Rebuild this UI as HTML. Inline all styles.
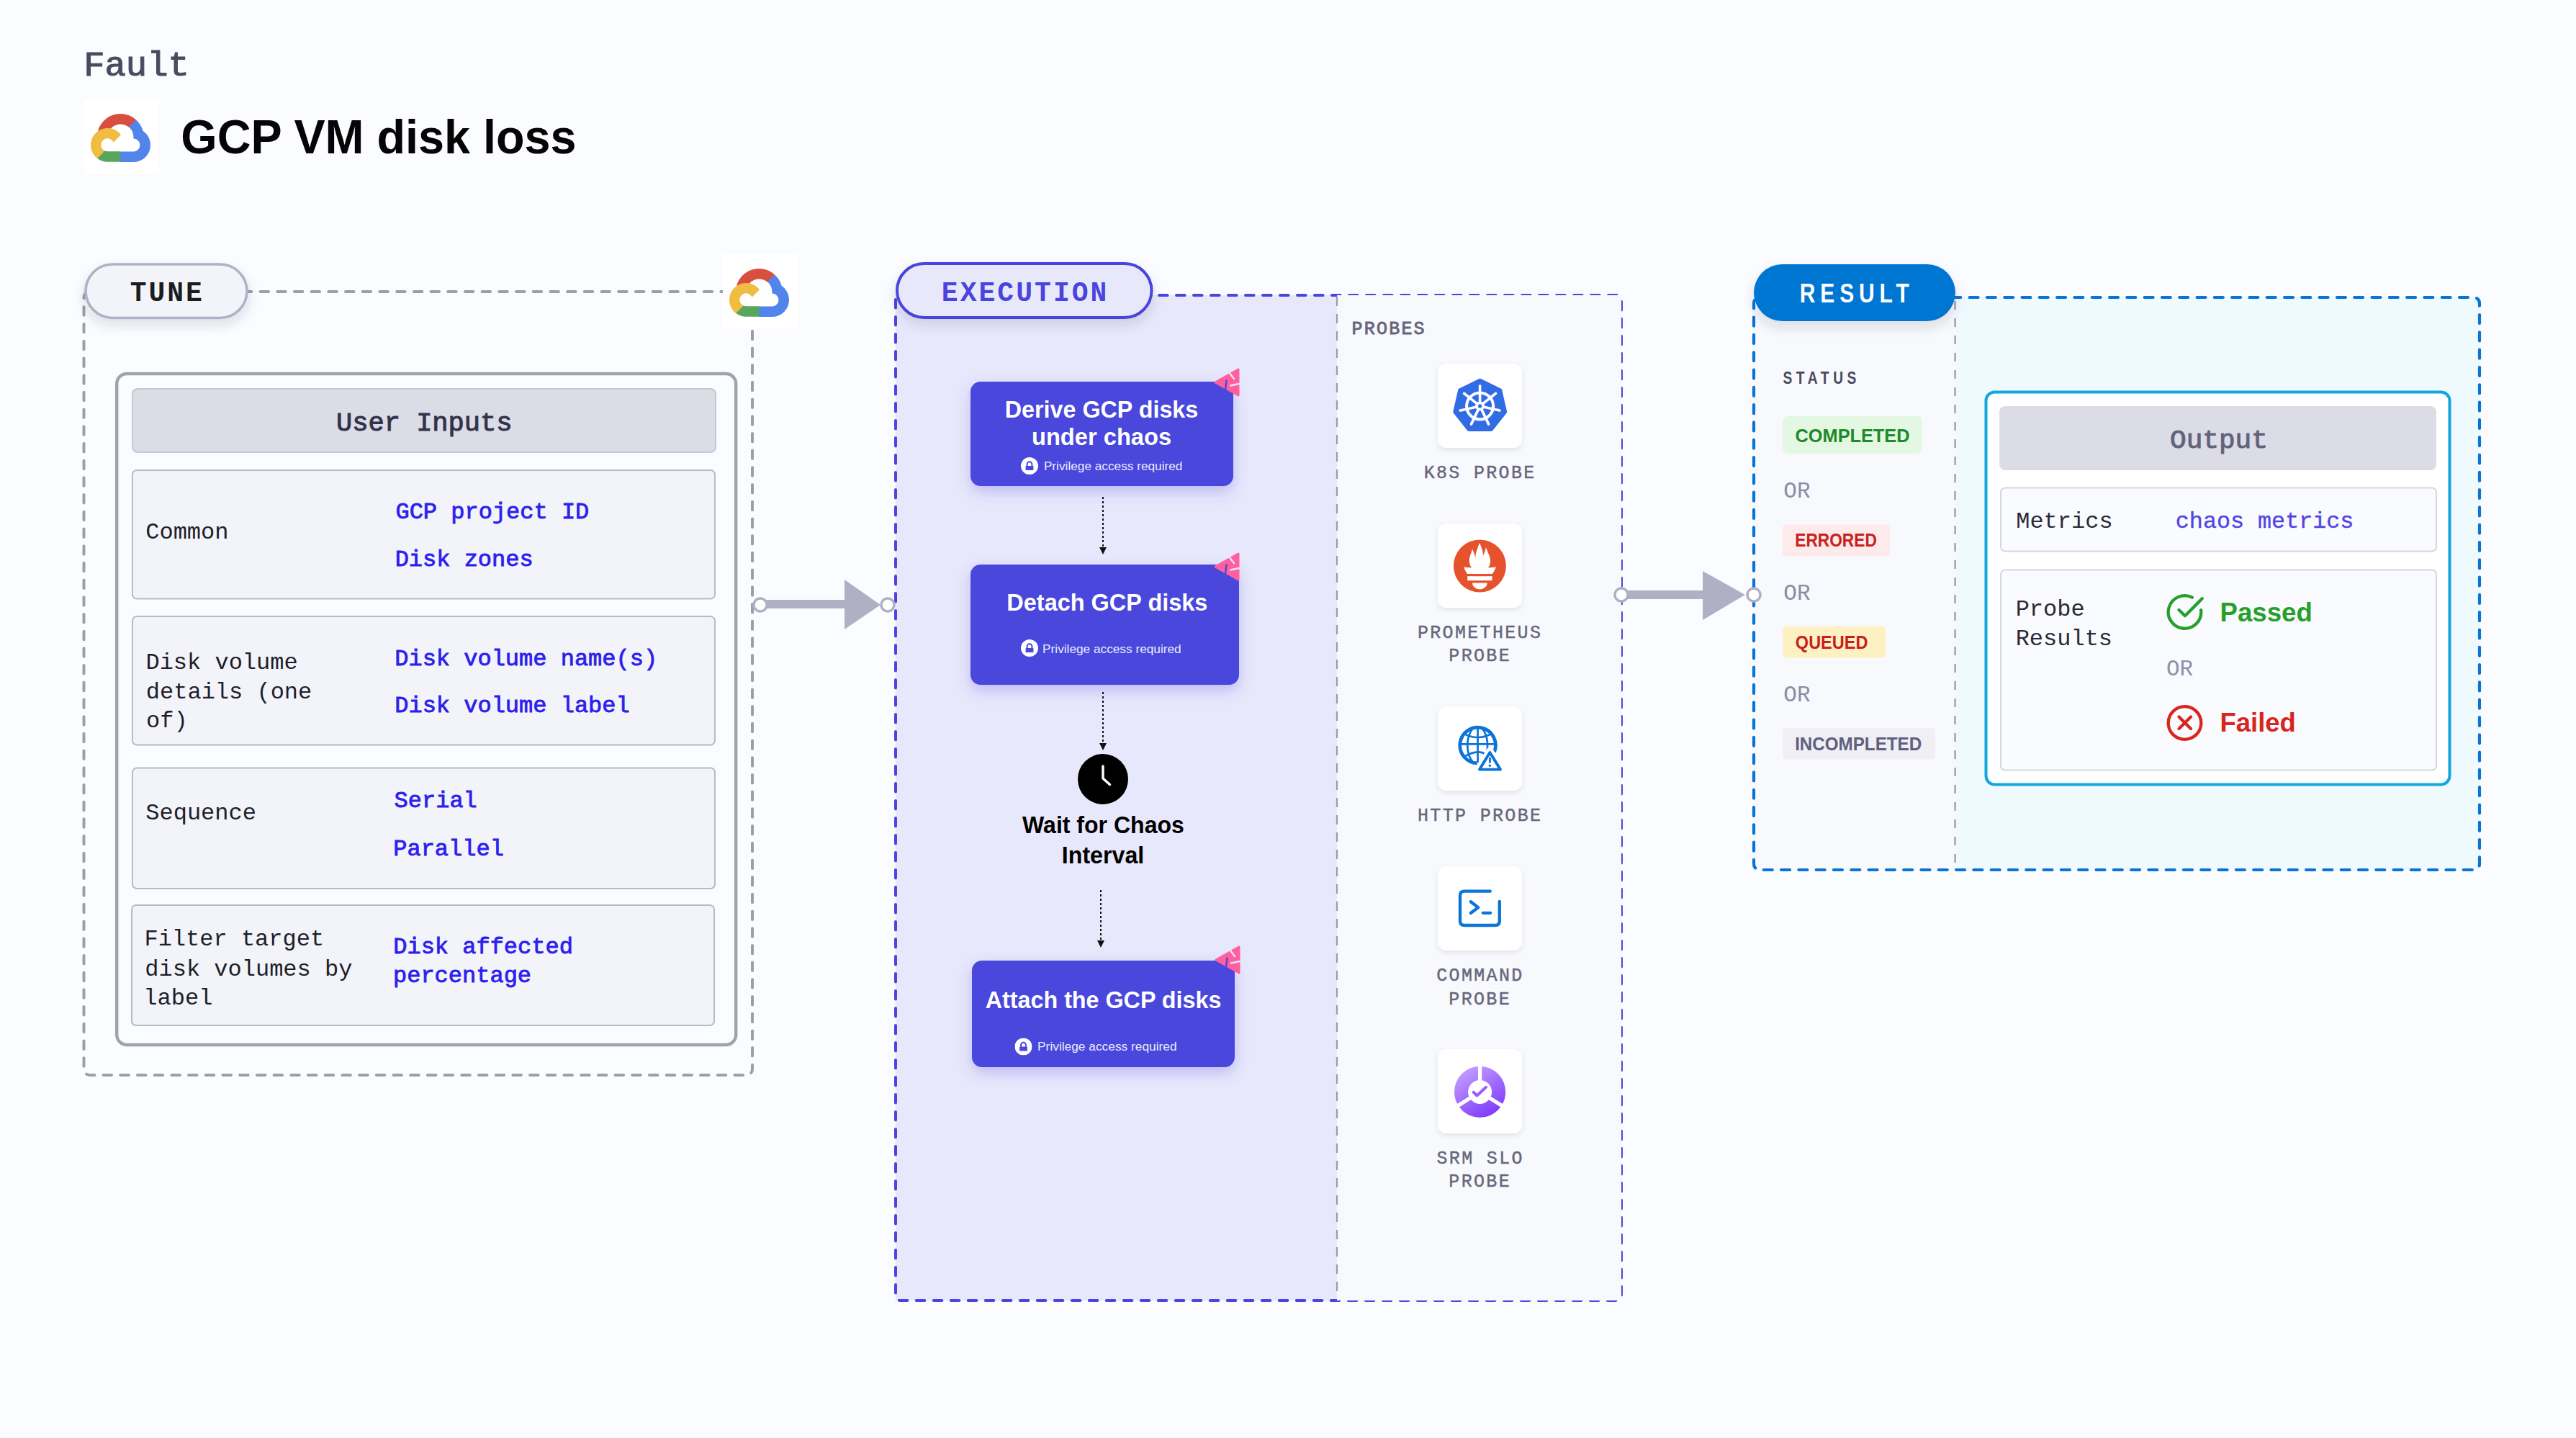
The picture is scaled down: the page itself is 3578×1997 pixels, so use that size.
<!DOCTYPE html>
<html><head><meta charset="utf-8">
<style>
html,body{margin:0;padding:0;background:#fbfcff;}
body{width:3578px;height:1997px;overflow:hidden;}
svg{display:block;}
</style></head>
<body>
<svg width="3578" height="1997" viewBox="0 0 3578 1997">
<defs>
  <filter id="shPill" x="-20%" y="-40%" width="140%" height="200%">
    <feDropShadow dx="0" dy="8" stdDeviation="8" flood-color="#30304a" flood-opacity="0.14"/>
  </filter>
  <filter id="shCard" x="-20%" y="-30%" width="140%" height="170%">
    <feDropShadow dx="0" dy="8" stdDeviation="10" flood-color="#4a47dc" flood-opacity="0.28"/>
  </filter>
  <filter id="shBox" x="-20%" y="-20%" width="140%" height="150%">
    <feDropShadow dx="0" dy="3" stdDeviation="3" flood-color="#40405a" flood-opacity="0.12"/>
  </filter>
  <linearGradient id="srmG" x1="0.2" y1="0" x2="0.8" y2="1">
    <stop offset="0" stop-color="#c4a2ff"/>
    <stop offset="1" stop-color="#7b35fb"/>
  </linearGradient>
  <symbol id="gcloud" viewBox="0 0 2385.7 1919.9">
    <path fill="#d84f3f" d="M1513.8,528.7h72.8l207.4-207.4l10.2-88c-385.9-340.6-975-303.9-1315.6,82C393.9,422.5,325.2,550,287.8,687.3c23.1-9.5,48.7-11,72.8-4.4l414.7-68.4c0,0,21.1-34.9,32-32.7c184.5-202.6,495-226.2,708-53.8H1513.8z"/>
    <path fill="#5185ec" d="M2089.4,688.2c-47.7-175.5-145.5-333.3-281.6-454l-291,291c122.9,100.4,192.9,251.7,189.9,410.4v51.7c143.1,0,259,116,259,259c0,143.1-116,259-259,259h-518.1l-51.7,52.4v310.7l51.7,51.7h518.1c297,2.3,560.4-190.2,648.3-473.9C2443.1,1162.4,2335.3,850.4,2089.4,688.2L2089.4,688.2z"/>
    <path fill="#58a65c" d="M669.8,1917h518.1v-414.7H669.8c-36.9,0-73.4-7.9-107-23.3l-72.8,22.5l-208.8,207.4l-18.2,72.8C380.1,1870.7,523,1917.7,669.8,1917L669.8,1917z"/>
    <path fill="#f0bc42" d="M669.8,571.7c-287.8,1.700-542.7,186-634.5,458.7c-91.8,272.7-0.3,573.7,227.8,749.1l300.5-300.5c-130.4-58.9-188.3-212.3-129.4-342.7c58.9-130.4,212.3-188.3,342.7-129.4c57.4,25.9,103.4,72,129.4,129.4l300.5-300.5C1078.9,668.6,880.7,570.9,669.8,571.7L669.8,571.7z"/>
  </symbol>
  <symbol id="badge" viewBox="0 0 36 40">
    <path d="M34 2 L34 38 L2 20 Z" fill="#ff5f9e" stroke="#ff5f9e" stroke-width="3" stroke-linejoin="round"/>
    <path d="M21 6 L28 15" stroke="#e6e6fa" stroke-width="2.4" stroke-linecap="round"/>
    <path d="M17.5 17.5 L16 30" stroke="#4a47dc" stroke-width="2.4" stroke-linecap="round"/>
    <path d="M23 24.5 L35 22" stroke="#e6e6fa" stroke-width="2.4" stroke-linecap="round"/>
  </symbol>
  <symbol id="lock" viewBox="0 0 24 24">
    <circle cx="12" cy="12" r="12" fill="#ffffff"/>
    <path d="M8.6 12.2 V9.6 a3.4 3.4 0 0 1 6.8 0 V12.2" fill="none" stroke="#4a47dc" stroke-width="2"/>
    <rect x="6.6" y="11.9" width="10.8" height="6.1" rx="0.5" fill="#4a47dc"/>
  </symbol>
</defs>
<rect x="0" y="0" width="3578" height="1997" fill="#fbfcff"/>

<text x="116.16" y="105.00" font-family="Liberation Mono" font-weight="normal" font-size="48.00" fill="#4b4b60" textLength="146.68" lengthAdjust="spacingAndGlyphs" stroke="#4b4b60" stroke-width="1.1">Fault</text>
<rect x="117" y="138" width="104" height="104" fill="#ffffff"/>
<use href="#gcloud" x="126" y="158" width="83" height="67"/>
<text x="251.31" y="213.00" font-family="Liberation Sans" font-weight="bold" font-size="66.00" fill="#050505" textLength="549.32" lengthAdjust="spacingAndGlyphs">GCP VM disk loss</text>
<rect x="116.5" y="405" width="928.5" height="1088" rx="8" fill="none" stroke="#9b9fa6" stroke-width="4" stroke-dasharray="11.5 12.2" stroke-linecap="round"/>
<rect x="1004" y="353" width="103" height="104" fill="#ffffff"/>
<use href="#gcloud" x="1013" y="373" width="83" height="67"/>
<g filter="url(#shPill)"><rect x="119" y="367" width="224" height="74.5" rx="37.25" fill="#f3f4f9" stroke="#b0b0c6" stroke-width="3.6"/></g>
<text x="180.66" y="418.00" font-family="Liberation Mono" font-weight="bold" font-size="38.00" fill="#1a1c20" letter-spacing="3.00">TUNE</text>
<rect x="162.2" y="519" width="860" height="932" rx="14" fill="#fbfcff" stroke="#a0a3aa" stroke-width="4.4"/>
<rect x="184" y="540" width="810" height="88" rx="7" fill="#dcdce6" stroke="#c6c6d6" stroke-width="2"/>
<text x="466.91" y="598.00" font-family="Liberation Mono" font-weight="normal" font-size="37.00" fill="#32324a" textLength="244.70" lengthAdjust="spacingAndGlyphs" stroke="#32324a" stroke-width="1.0">User Inputs</text>
<rect x="184.0" y="653.0" width="809.0" height="178.5" rx="6" fill="#f3f4f9" stroke="#b9b9cc" stroke-width="2"/>
<rect x="184.0" y="856.0" width="809.0" height="178.5" rx="6" fill="#f3f4f9" stroke="#b9b9cc" stroke-width="2"/>
<rect x="184.0" y="1066.5" width="809.0" height="167.5" rx="6" fill="#f3f4f9" stroke="#b9b9cc" stroke-width="2"/>
<rect x="183.0" y="1257.0" width="809.0" height="167.0" rx="6" fill="#f3f4f9" stroke="#b9b9cc" stroke-width="2"/>
<text x="202.24" y="748.00" font-family="Liberation Mono" font-weight="normal" font-size="32.00" fill="#1e1e2a">Common</text>
<text x="202.44" y="928.80" font-family="Liberation Mono" font-weight="normal" font-size="32.00" fill="#1e1e2a">Disk volume</text>
<text x="202.84" y="969.60" font-family="Liberation Mono" font-weight="normal" font-size="32.00" fill="#1e1e2a">details (one</text>
<text x="203.00" y="1010.40" font-family="Liberation Mono" font-weight="normal" font-size="32.00" fill="#1e1e2a">of)</text>
<text x="202.30" y="1138.00" font-family="Liberation Mono" font-weight="normal" font-size="32.00" fill="#1e1e2a">Sequence</text>
<text x="200.46" y="1313.00" font-family="Liberation Mono" font-weight="normal" font-size="32.00" fill="#1e1e2a">Filter target</text>
<text x="201.34" y="1354.50" font-family="Liberation Mono" font-weight="normal" font-size="32.00" fill="#1e1e2a">disk volumes by</text>
<text x="199.34" y="1395.00" font-family="Liberation Mono" font-weight="normal" font-size="32.00" fill="#1e1e2a">label</text>
<text x="549.44" y="719.80" font-family="Liberation Mono" font-weight="normal" font-size="32.00" fill="#2c20ec" stroke="#2c20ec" stroke-width="0.85">GCP project ID</text>
<text x="548.64" y="785.80" font-family="Liberation Mono" font-weight="normal" font-size="32.00" fill="#2c20ec" stroke="#2c20ec" stroke-width="0.85">Disk zones</text>
<text x="548.24" y="923.80" font-family="Liberation Mono" font-weight="normal" font-size="32.00" fill="#2c20ec" stroke="#2c20ec" stroke-width="0.85">Disk volume name(s)</text>
<text x="548.24" y="988.80" font-family="Liberation Mono" font-weight="normal" font-size="32.00" fill="#2c20ec" stroke="#2c20ec" stroke-width="0.85">Disk volume label</text>
<text x="547.60" y="1120.80" font-family="Liberation Mono" font-weight="normal" font-size="32.00" fill="#2c20ec" stroke="#2c20ec" stroke-width="0.85">Serial</text>
<text x="546.24" y="1187.80" font-family="Liberation Mono" font-weight="normal" font-size="32.00" fill="#2c20ec" stroke="#2c20ec" stroke-width="0.85">Parallel</text>
<text x="546.24" y="1323.80" font-family="Liberation Mono" font-weight="normal" font-size="32.00" fill="#2c20ec" stroke="#2c20ec" stroke-width="0.85">Disk affected</text>
<text x="546.00" y="1363.80" font-family="Liberation Mono" font-weight="normal" font-size="32.00" fill="#2c20ec" stroke="#2c20ec" stroke-width="0.85">percentage</text>
<rect x="1060" y="833" width="116" height="12" fill="#b0b0c4"/>
<path d="M1173 805 L1223 840 L1173 874 Z" fill="#b0b0c4"/>
<circle cx="1056" cy="840" r="9" fill="#ffffff" stroke="#b0b0c4" stroke-width="3.5"/>
<rect x="1244" y="410" width="613" height="1396" fill="#e8e8fc"/>
<rect x="1244" y="410" width="1008" height="1396" rx="6" fill="none" stroke="#4b45e0" stroke-width="4" stroke-dasharray="11.6 12.4" stroke-linecap="round"/>
<rect x="1857" y="410" width="395" height="1396" fill="#f8f9fc"/>
<line x1="1857" y1="412" x2="1857" y2="1804" stroke="#9c9cab" stroke-width="2.2" stroke-dasharray="13 11"/>
<circle cx="1233" cy="840" r="9" fill="#ffffff" stroke="#b0b0c4" stroke-width="3.5"/>
<g filter="url(#shPill)"><rect x="1246" y="366" width="353.5" height="75" rx="37.5" fill="#e8e8fb" stroke="#4a44dc" stroke-width="4"/></g>
<text x="1307.84" y="418.00" font-family="Liberation Mono" font-weight="bold" font-size="38.00" fill="#4a44dc" letter-spacing="3.04">EXECUTION</text>
<g filter="url(#shCard)">
<rect x="1348" y="530" width="365" height="145" rx="14" fill="#4a47dc"/>
<rect x="1348" y="784" width="373" height="167" rx="14" fill="#4a47dc"/>
<rect x="1350" y="1334" width="365" height="148" rx="14" fill="#4a47dc"/>
</g>
<text x="1395.72" y="579.50" font-family="Liberation Sans" font-weight="bold" font-size="32.50" fill="#ffffff" textLength="268.54" lengthAdjust="spacingAndGlyphs">Derive GCP disks</text>
<text x="1432.96" y="618.30" font-family="Liberation Sans" font-weight="bold" font-size="32.50" fill="#ffffff" textLength="194.18" lengthAdjust="spacingAndGlyphs">under chaos</text>
<text x="1398.36" y="847.60" font-family="Liberation Sans" font-weight="bold" font-size="32.50" fill="#ffffff" textLength="279.04" lengthAdjust="spacingAndGlyphs">Detach GCP disks</text>
<text x="1368.74" y="1400.00" font-family="Liberation Sans" font-weight="bold" font-size="32.50" fill="#ffffff" textLength="327.64" lengthAdjust="spacingAndGlyphs">Attach the GCP disks</text>
<text x="1449.88" y="652.80" font-family="Liberation Sans" font-weight="normal" font-size="17.00" fill="#ececff" textLength="192.54" lengthAdjust="spacingAndGlyphs">Privilege access required</text>
<text x="1448.08" y="906.80" font-family="Liberation Sans" font-weight="normal" font-size="17.00" fill="#ececff" textLength="192.54" lengthAdjust="spacingAndGlyphs">Privilege access required</text>
<text x="1441.07" y="1459.00" font-family="Liberation Sans" font-weight="normal" font-size="17.00" fill="#ececff" textLength="193.55" lengthAdjust="spacingAndGlyphs">Privilege access required</text>
<use href="#lock" x="1418" y="635" width="24" height="24"/>
<use href="#lock" x="1418" y="888" width="24" height="24"/>
<use href="#lock" x="1409.5" y="1441.5" width="24" height="24"/>
<use href="#badge" x="1686" y="511" width="36" height="40"/>
<use href="#badge" x="1686" y="767" width="36" height="40"/>
<use href="#badge" x="1687" y="1313" width="36" height="40"/>
<g stroke="#111" stroke-width="2" stroke-dasharray="3 3">
  <line x1="1532" y1="690" x2="1532" y2="762"/>
  <line x1="1532" y1="961" x2="1532" y2="1034"/>
  <line x1="1529" y1="1236" x2="1529" y2="1308"/>
</g>
<g fill="#111">
  <path d="M1527 760 L1537 760 L1532 770 Z"/>
  <path d="M1527 1032 L1537 1032 L1532 1042 Z"/>
  <path d="M1524 1306 L1534 1306 L1529 1316 Z"/>
</g>
<circle cx="1532" cy="1082" r="35" fill="#000"/>
<path d="M1532 1064 V1081 L1541.5 1089.5" fill="none" stroke="#fff" stroke-width="3.4" stroke-linecap="round" stroke-linejoin="round"/>
<text x="1420.05" y="1157.00" font-family="Liberation Sans" font-weight="bold" font-size="32.50" fill="#000000" textLength="224.82" lengthAdjust="spacingAndGlyphs">Wait for Chaos</text>
<text x="1474.83" y="1199.00" font-family="Liberation Sans" font-weight="bold" font-size="32.50" fill="#000000" textLength="114.41" lengthAdjust="spacingAndGlyphs">Interval</text>
<text x="1877.60" y="464.10" font-family="Liberation Mono" font-weight="normal" font-size="25.00" fill="#67677c" letter-spacing="2.20" stroke="#67677c" stroke-width="0.9">PROBES</text>
<g filter="url(#shBox)" fill="#ffffff">
<rect x="1997" y="505" width="117" height="117" rx="12"/>
<rect x="1997" y="727" width="117" height="117" rx="12"/>
<rect x="1997" y="981" width="117" height="117" rx="12"/>
<rect x="1997" y="1203" width="117" height="117" rx="12"/>
<rect x="1997" y="1457" width="117" height="117" rx="12"/>
</g>
<text x="1977.64" y="663.80" font-family="Liberation Mono" font-weight="normal" font-size="25.00" fill="#67677c" letter-spacing="2.33" stroke="#67677c" stroke-width="0.45">K8S PROBE</text>
<text x="1968.94" y="886.30" font-family="Liberation Mono" font-weight="normal" font-size="25.00" fill="#67677c" letter-spacing="2.33" stroke="#67677c" stroke-width="0.45">PROMETHEUS</text>
<text x="2012.30" y="918.40" font-family="Liberation Mono" font-weight="normal" font-size="25.00" fill="#67677c" letter-spacing="2.33" stroke="#67677c" stroke-width="0.45">PROBE</text>
<text x="1968.97" y="1140.00" font-family="Liberation Mono" font-weight="normal" font-size="25.00" fill="#67677c" letter-spacing="2.33" stroke="#67677c" stroke-width="0.45">HTTP PROBE</text>
<text x="1995.25" y="1362.00" font-family="Liberation Mono" font-weight="normal" font-size="25.00" fill="#67677c" letter-spacing="2.33" stroke="#67677c" stroke-width="0.45">COMMAND</text>
<text x="2012.30" y="1394.50" font-family="Liberation Mono" font-weight="normal" font-size="25.00" fill="#67677c" letter-spacing="2.33" stroke="#67677c" stroke-width="0.45">PROBE</text>
<text x="1995.47" y="1616.00" font-family="Liberation Mono" font-weight="normal" font-size="25.00" fill="#67677c" letter-spacing="2.33" stroke="#67677c" stroke-width="0.45">SRM SLO</text>
<text x="2012.30" y="1648.00" font-family="Liberation Mono" font-weight="normal" font-size="25.00" fill="#67677c" letter-spacing="2.33" stroke="#67677c" stroke-width="0.45">PROBE</text>
<polygon points="2055.7,528.8 2083.3,542.1 2090.1,571.9 2071.1,595.9 2040.3,595.9 2021.3,571.9 2028.1,542.1" fill="#326ce5" stroke="#326ce5" stroke-width="6" stroke-linejoin="round"/>
<g stroke="#fff" stroke-width="3.6" stroke-linecap="round">
  <line x1="2055.6" y1="563.9" x2="2055.6" y2="535.9"/>
  <line x1="2055.6" y1="563.9" x2="2077.5" y2="546.4"/>
  <line x1="2055.6" y1="563.9" x2="2082.9" y2="570.1"/>
  <line x1="2055.6" y1="563.9" x2="2067.7" y2="589.1"/>
  <line x1="2055.6" y1="563.9" x2="2043.5" y2="589.1"/>
  <line x1="2055.6" y1="563.9" x2="2028.3" y2="570.1"/>
  <line x1="2055.6" y1="563.9" x2="2033.7" y2="546.4"/>
</g>
<circle cx="2055.6" cy="563.9" r="18.5" fill="none" stroke="#fff" stroke-width="4"/>
<circle cx="2055.6" cy="563.9" r="6.5" fill="#fff"/>
<circle cx="2055.6" cy="563.9" r="2.6" fill="#326ce5"/>

<circle cx="2055.4" cy="786" r="36.5" fill="#e6522c"/>
<path fill="#fff" d="M2055 754 C2052 762 2049 768 2049.5 775 L2047 767 L2045 762.5 C2043 770 2040 775 2041 781 C2041.5 785 2043 787 2044 788.5 L2033 787.5 C2034.5 791 2036 794 2038 797 L2072.8 797 C2075 794 2076.5 791 2078 787.5 L2067 788.5 C2068 787 2069.5 785 2070 781 C2071 774 2066 767 2064 760 C2063 766 2061 769 2060 772 C2060 766 2058 760 2055 754 Z"/>
<rect x="2038.2" y="800.2" width="34.4" height="6" fill="#fff"/>
<path d="M2045 809.4 H2065.8 A10.4 9 0 0 1 2045 809.4 Z" fill="#fff"/>

<clipPath id="globeClip"><circle cx="2052.6" cy="1035.1" r="24"/></clipPath>
<g fill="none" stroke="#0b74d6" stroke-width="2.7" clip-path="url(#globeClip)">
  <line x1="2052.6" y1="1008" x2="2052.6" y2="1062"/>
  <line x1="2025" y1="1033.4" x2="2080" y2="1033.4"/>
  <ellipse cx="2052.2" cy="1035.1" rx="13.9" ry="26"/>
  <path d="M2030 1017 Q2052.6 1031 2075 1017"/>
  <path d="M2030 1053 Q2050 1040 2062 1046.5"/>
</g>
<path d="M2051.73 1059.88 A24.8 24.8 0 1 1 2075.59 1044.39" fill="none" stroke="#0b74d6" stroke-width="4.8"/>
<path d="M2069.4 1042 L2086.5 1070.5 L2052.5 1070.5 Z" fill="#fff" stroke="#fff" stroke-width="9" stroke-linejoin="round"/>
<path d="M2069.4 1045 L2084 1068.6 L2055 1068.6 Z" fill="#fff" stroke="#0b74d6" stroke-width="3.9" stroke-linejoin="round"/>
<line x1="2069.4" y1="1052" x2="2069.4" y2="1059.5" stroke="#0b74d6" stroke-width="2.9"/>
<circle cx="2069.4" cy="1063.3" r="1.7" fill="#0b74d6"/>

<g fill="none" stroke="#0b74d6" stroke-width="4.3" stroke-linecap="round" stroke-linejoin="round">
  <path d="M2069.8 1237.7 H2034 Q2028 1237.7 2028 1243.7 V1279 Q2028 1285 2034 1285 H2077 Q2082.8 1285 2082.8 1279 V1252"/>
  <path d="M2042.8 1252.3 L2053.2 1260.2 L2042.8 1268"/>
  <path d="M2059.8 1267.8 H2070.2"/>
</g>

<circle cx="2055.6" cy="1516.4" r="35.6" fill="url(#srmG)"/>
<circle cx="2055.6" cy="1516.4" r="16.5" fill="#fff"/>
<g stroke="#fff" stroke-width="5.2">
  <line x1="2055.6" y1="1516.4" x2="2055.6" y2="1478"/>
  <line x1="2055.6" y1="1516.4" x2="2022.6" y2="1537"/>
  <line x1="2055.6" y1="1516.4" x2="2088.6" y2="1537"/>
</g>
<circle cx="2055.6" cy="1516.4" r="13" fill="#fff"/>
<path d="M2046.7 1516.8 L2051.5 1521.5 L2064.1 1509.8" fill="none" stroke="#9b5cff" stroke-width="4" stroke-linecap="round" stroke-linejoin="round"/>

<rect x="2256" y="820" width="112" height="12" fill="#b0b0c4"/>
<path d="M2365 793 L2424 826 L2365 861 Z" fill="#b0b0c4"/>
<circle cx="2252" cy="826" r="9" fill="#ffffff" stroke="#b0b0c4" stroke-width="3.5"/>

<rect x="2436" y="413" width="280" height="795" fill="#f8f9fc"/>
<rect x="2716" y="413" width="728" height="795" fill="#effaff"/>
<rect x="2436" y="413" width="1008" height="795" rx="8" fill="none" stroke="#0a74d4" stroke-width="4.2" stroke-dasharray="12 12.3" stroke-linecap="round"/>
<line x1="2715.5" y1="418" x2="2715.5" y2="1207" stroke="#5a5a6e" stroke-width="1.4" stroke-dasharray="12 12"/>
<circle cx="2436" cy="826" r="9" fill="#ffffff" stroke="#b0b0c4" stroke-width="3.5"/>
<g filter="url(#shPill)"><rect x="2436" y="367" width="280" height="79" rx="39.5" fill="#0176d3"/></g>
<text transform="translate(2499.78 420.00) scale(0.800 1)" x="0" y="0" font-family="Liberation Sans" font-weight="bold" font-size="37.50" fill="#ffffff" letter-spacing="8.57">RESULT</text>
<text transform="translate(2476.42 533.00) scale(0.800 1)" x="0" y="0" font-family="Liberation Sans" font-weight="bold" font-size="24.00" fill="#4a4a5e" letter-spacing="7.02">STATUS</text>
<rect x="2476" y="578" width="194" height="52" rx="8" fill="#e3f7e2"/>
<rect x="2476" y="728.5" width="149" height="44" rx="5" fill="#fdeaea"/>
<rect x="2476" y="870" width="143" height="43.5" rx="5" fill="#fdf1c4"/>
<rect x="2476" y="1011" width="212" height="43.5" rx="5" fill="#efeff5"/>
<text x="2493.59" y="613.90" font-family="Liberation Sans" font-weight="bold" font-size="25.00" fill="#1e8a28" textLength="158.90" lengthAdjust="spacingAndGlyphs">COMPLETED</text>
<text x="2493.27" y="759.00" font-family="Liberation Sans" font-weight="bold" font-size="25.00" fill="#c8201c" textLength="113.51" lengthAdjust="spacingAndGlyphs">ERRORED</text>
<text x="2493.86" y="900.80" font-family="Liberation Sans" font-weight="bold" font-size="25.00" fill="#c8201c" textLength="100.56" lengthAdjust="spacingAndGlyphs">QUEUED</text>
<text x="2493.17" y="1042.00" font-family="Liberation Sans" font-weight="bold" font-size="25.00" fill="#60607e" textLength="175.97" lengthAdjust="spacingAndGlyphs">INCOMPLETED</text>
<text x="2477.24" y="691.20" font-family="Liberation Mono" font-weight="normal" font-size="31.00" fill="#8c8ca6" textLength="37.34" lengthAdjust="spacingAndGlyphs">OR</text>
<text x="2477.24" y="833.00" font-family="Liberation Mono" font-weight="normal" font-size="31.00" fill="#8c8ca6" textLength="37.34" lengthAdjust="spacingAndGlyphs">OR</text>
<text x="2477.24" y="974.10" font-family="Liberation Mono" font-weight="normal" font-size="31.00" fill="#8c8ca6" textLength="37.34" lengthAdjust="spacingAndGlyphs">OR</text>
<rect x="2758.5" y="544.5" width="644" height="545" rx="12" fill="#ffffff" stroke="#12a6dc" stroke-width="4"/>
<rect x="2777" y="564" width="607" height="89" rx="8" fill="#dcdce6"/>
<text x="3014.11" y="622.30" font-family="Liberation Mono" font-weight="normal" font-size="37.00" fill="#62627a" textLength="135.78" lengthAdjust="spacingAndGlyphs" stroke="#62627a" stroke-width="1.0">Output</text>
<rect x="2779" y="677.5" width="605" height="88" rx="6" fill="#fafbfe" stroke="#d6d6e2" stroke-width="2"/>
<rect x="2779" y="791.5" width="605" height="278" rx="6" fill="#fafbfe" stroke="#d6d6e2" stroke-width="2"/>
<text x="2800.20" y="733.40" font-family="Liberation Mono" font-weight="normal" font-size="32.00" fill="#2a2a36">Metrics</text>
<text x="2799.64" y="854.50" font-family="Liberation Mono" font-weight="normal" font-size="32.00" fill="#2a2a36">Probe</text>
<text x="2799.64" y="896.00" font-family="Liberation Mono" font-weight="normal" font-size="32.00" fill="#2a2a36">Results</text>
<text x="3021.82" y="733.40" font-family="Liberation Mono" font-weight="normal" font-size="32.00" fill="#5046e5" textLength="247.57" lengthAdjust="spacingAndGlyphs" stroke="#5046e5" stroke-width="0.4">chaos metrics</text>
<path d="M3057.13 847.22 A22.8 22.8 0 1 1 3044.85 829.69" fill="none" stroke="#24a02a" stroke-width="4.3" stroke-linecap="round"/>
<path d="M3026.5 847 L3034.9 855.3 L3058.7 831.3" fill="none" stroke="#24a02a" stroke-width="4.3" stroke-linecap="round" stroke-linejoin="round"/>
<text x="3083.53" y="862.60" font-family="Liberation Sans" font-weight="bold" font-size="36.00" fill="#25a02b" textLength="128.25" lengthAdjust="spacingAndGlyphs">Passed</text>
<text x="3008.95" y="938.20" font-family="Liberation Mono" font-weight="normal" font-size="31.00" fill="#9090a8" textLength="37.13" lengthAdjust="spacingAndGlyphs">OR</text>
<circle cx="3034.5" cy="1004" r="22.8" fill="none" stroke="#d7261e" stroke-width="4.3"/>
<path d="M3026.5 995.6 L3043 1012 M3043 995.6 L3026.5 1012" fill="none" stroke="#d7261e" stroke-width="4.3" stroke-linecap="round"/>
<text x="3083.54" y="1016.40" font-family="Liberation Sans" font-weight="bold" font-size="36.00" fill="#d7261e" textLength="105.32" lengthAdjust="spacingAndGlyphs">Failed</text>
</svg>
</body></html>
